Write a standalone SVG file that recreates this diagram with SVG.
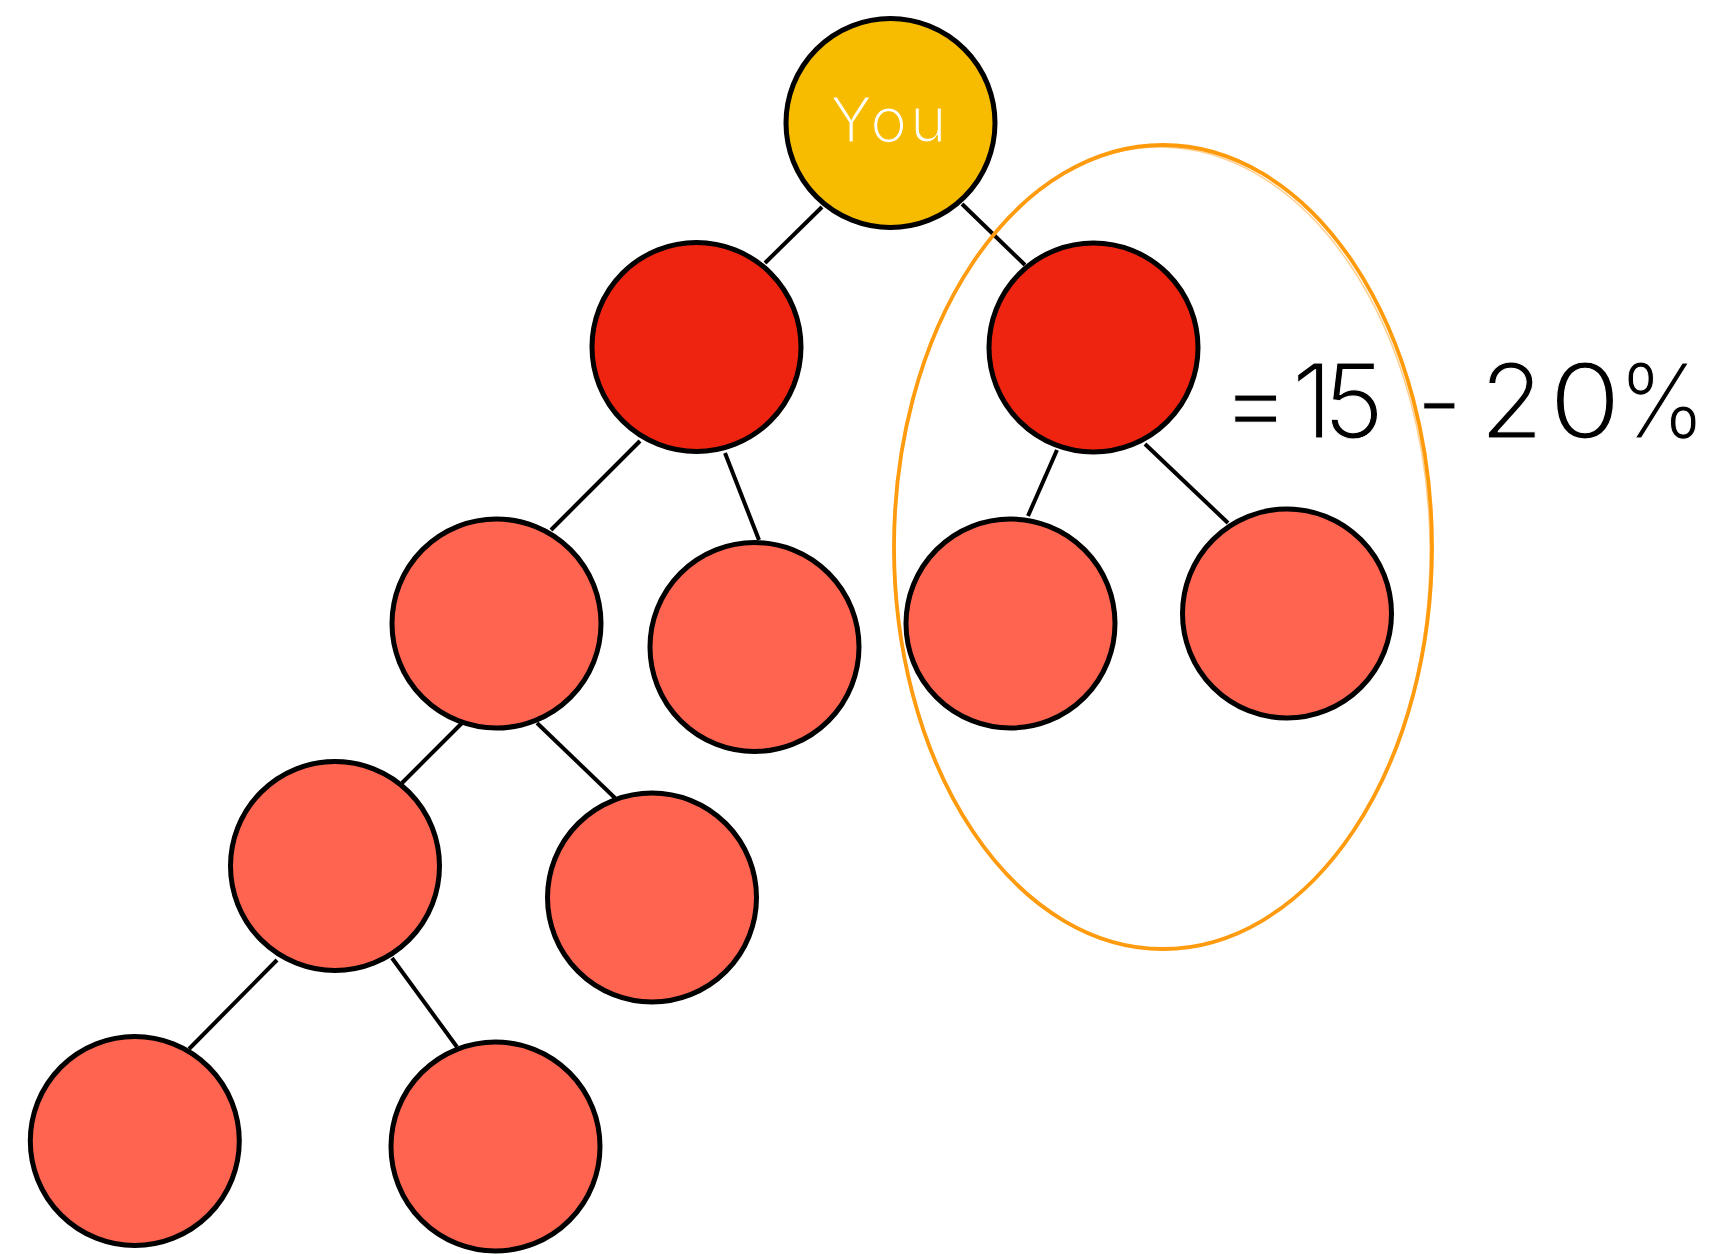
<svg xmlns="http://www.w3.org/2000/svg" width="1712" height="1254" viewBox="0 0 1712 1254">
  <style>
    .edge { stroke: #000; stroke-width: 4; stroke-linecap: butt; fill: none; }
    .node { stroke: #000; stroke-width: 5; }
    .you { fill: #F7BC00; }
    .lvl1 { fill: #EE2410; }
    .lvl2 { fill: #FF6450; }
    .lbl { font-family: "Inter", "Lato", "Liberation Sans", sans-serif; font-weight: 300; }
  </style>
  <rect width="1712" height="1254" fill="#fff"/>
  <g id="connectors">
    <line class="edge" x1="822" y1="207" x2="765" y2="263"/>
    <line class="edge" x1="962" y1="204" x2="1025" y2="265"/>
    <line class="edge" x1="640" y1="441" x2="551" y2="530"/>
    <line class="edge" x1="725" y1="453" x2="759" y2="540"/>
    <line class="edge" x1="1057" y1="450" x2="1028" y2="516"/>
    <line class="edge" x1="1145" y1="444" x2="1228" y2="523"/>
    <line class="edge" x1="463" y1="722" x2="402" y2="783"/>
    <line class="edge" x1="537" y1="723" x2="615" y2="798"/>
    <line class="edge" x1="277" y1="960" x2="189" y2="1049"/>
    <line class="edge" x1="392" y1="958" x2="457" y2="1047"/>
  </g>
  <g id="node-you">
    <circle class="node you" cx="890.5" cy="123" r="104.5"/>
    <text class="lbl" x="890" y="142" font-size="62" fill="#fff" stroke="#F7BC00" stroke-width="1.1" text-anchor="middle" letter-spacing="3">You</text>
  </g>
  <g id="node-l1-left"><circle class="node lvl1" cx="696.5" cy="347" r="104.5"/></g>
  <g id="node-l1-right"><circle class="node lvl1" cx="1093.5" cy="347.5" r="104.5"/></g>
  <g id="node-a"><circle class="node lvl2" cx="496.5" cy="623.5" r="104.5"/></g>
  <g id="node-b"><circle class="node lvl2" cx="754.5" cy="647" r="104.5"/></g>
  <g id="node-c"><circle class="node lvl2" cx="1010.5" cy="623.5" r="104.5"/></g>
  <g id="node-d"><circle class="node lvl2" cx="1287" cy="613.5" r="104.5"/></g>
  <g id="node-e"><circle class="node lvl2" cx="335" cy="866" r="104.5"/></g>
  <g id="node-f"><circle class="node lvl2" cx="652" cy="897.5" r="104.5"/></g>
  <g id="node-g"><circle class="node lvl2" cx="134.8" cy="1141" r="104.5"/></g>
  <g id="node-h"><circle class="node lvl2" cx="495.5" cy="1146.5" r="104.5"/></g>
  <g id="highlight">
    <ellipse cx="1163" cy="547" rx="269" ry="402" fill="none" stroke="#FF9A0A" stroke-width="3.8"/>
    <ellipse cx="1162" cy="548" rx="268" ry="401" fill="none" stroke="#FFA020" stroke-width="1.5" opacity="0.5" transform="rotate(-0.6 1162 548)"/>
  </g>
  <g id="label">
    <text class="lbl" y="438" font-size="103" fill="#000" stroke="#fff" stroke-width="1.0"><tspan x="1222">=</tspan><tspan x="1292">1</tspan><tspan x="1323">5 </tspan><tspan x="1416">- </tspan><tspan x="1480">2</tspan><tspan x="1549" textLength="72" lengthAdjust="spacingAndGlyphs">0</tspan><tspan x="1618" textLength="88" lengthAdjust="spacingAndGlyphs">%</tspan></text>
  </g>
</svg>
